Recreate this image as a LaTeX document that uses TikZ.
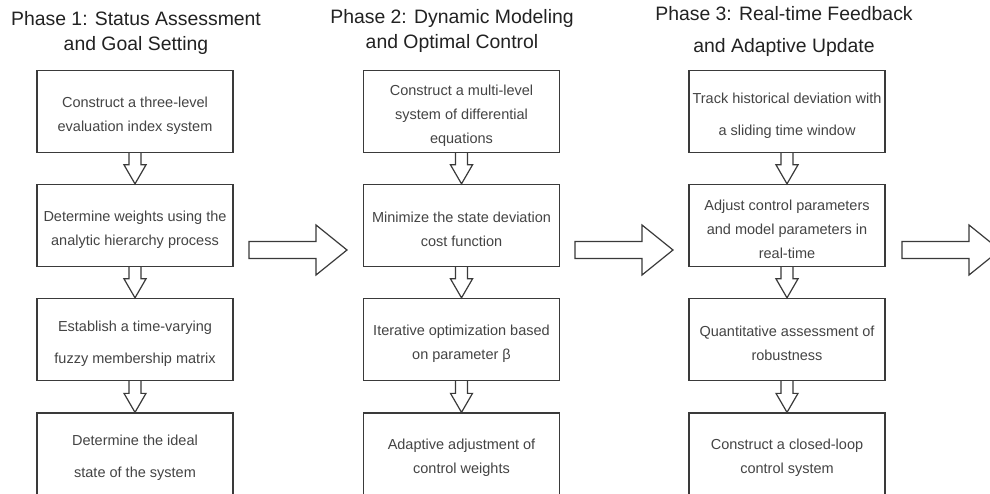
\documentclass[tikz,border=0pt]{standalone}
\usepackage{fontspec}
\setmainfont{Liberation Sans}
\usetikzlibrary{calc}
\definecolor{ink}{HTML}{3A3A3A}
\definecolor{bink}{HTML}{444444}
\definecolor{tink}{HTML}{222222}
\newcommand\pad{\rule{0pt}{18.5pt}}
\newcommand\darr[2]{\draw[harrow] ($(#1.south)+(-6,0)$) -- ($(#2.north)+(-6,-19)$) -- ($(#2.north)+(-11,-19)$) -- (#2.north) -- ($(#2.north)+(11,-19)$) -- ($(#2.north)+(6,-19)$) -- ($(#1.south)+(6,0)$);}
\newcommand\rarr[1]{\draw[harrow] ($(#1)+(0,-8.5)$) -- ($(#1)+(67,-8.5)$) -- ($(#1)+(67,-25)$) -- ($(#1)+(98,0)$) -- ($(#1)+(67,25)$) -- ($(#1)+(67,8.5)$) -- ($(#1)+(0,8.5)$) -- cycle;}
\begin{document}
\begin{tikzpicture}[x=1pt,y=-1pt,
  stepbox/.style={draw=ink, line width=1.3pt, minimum width=196pt, minimum height=82pt, inner sep=0pt, align=center, text=bink, font=\fontsize{14.5}{24}\selectfont},
  phasetitle/.style={align=center, text=tink, font=\fontsize{19.4}{25}\selectfont},
  harrow/.style={draw=ink, line width=1.2pt, line join=miter}]
\useasboundingbox (0,0) rectangle (990,494);
\clip (0,0) rectangle (990,494);
\fill[white] (0,0) rectangle (990,494);

% titles
\node[phasetitle] (t1) at (136,33) {Phase 1: Status Assessment\\and Goal Setting};
\node[phasetitle] (t2) at (452,31) {Phase 2: Dynamic Modeling\\and Optimal Control};
\node[phasetitle] (t3) at (784,31) {Phase 3: Real-time Feedback\\[7pt]and Adaptive Update};

% column 1
\node[stepbox] (a1) at (135,111.5) {\pad Construct a three-level\\evaluation index system};
\node[stepbox] (a2) at (135,225.5) {\pad Determine weights using the\\analytic hierarchy process};
\node[stepbox] (a3) at (135,339.5) {\pad Establish a time-varying\\[8pt]fuzzy membership matrix};
\node[stepbox] (a4) at (135,454) {\pad Determine the ideal\\[8pt]state of the system};

% column 2
\node[stepbox] (b1) at (461.5,111.5) {\pad Construct a multi-level\\system of differential\\equations};
\node[stepbox] (b2) at (461.5,225.5) {\pad Minimize the state deviation\\cost function};
\node[stepbox] (b3) at (461.5,339.5) {\pad Iterative optimization based\\on parameter β};
\node[stepbox] (b4) at (461.5,454) {\pad Adaptive adjustment of\\control weights};

% column 3
\node[stepbox] (c1) at (787,111.5) {\pad Track historical deviation with\\[8pt]a sliding time window};
\node[stepbox] (c2) at (787,225.5) {\pad Adjust control parameters\\and model parameters in\\real-time};
\node[stepbox] (c3) at (787,339.5) {\pad Quantitative assessment of\\robustness};
\node[stepbox] (c4) at (787,454) {\pad Construct a closed-loop\\control system};

% down arrows
\darr{a1}{a2}\darr{a2}{a3}\darr{a3}{a4}
\darr{b1}{b2}\darr{b2}{b3}\darr{b3}{b4}
\darr{c1}{c2}\darr{c2}{c3}\darr{c3}{c4}

% phase arrows
\coordinate (p1) at (249,250);
\coordinate (p2) at (575,250);
\coordinate (p3) at (902,250);
\rarr{p1}\rarr{p2}\rarr{p3}
\end{tikzpicture}
\end{document}
